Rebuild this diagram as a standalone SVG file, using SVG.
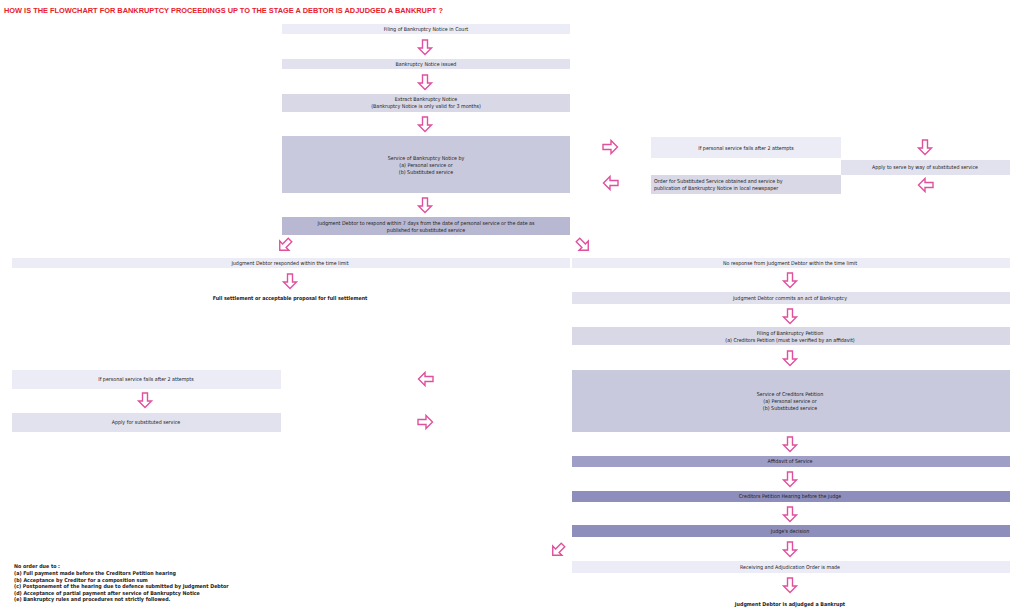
<svg xmlns="http://www.w3.org/2000/svg" width="1024" height="616" viewBox="0 0 1024 616">
<style>
text{font-family:"DejaVu Sans Condensed","DejaVu Sans",sans-serif;font-size:5.3px;fill:#222}
.c{text-anchor:middle}
.b{font-weight:bold}
.t{font-family:"Liberation Sans",Arial,sans-serif;font-size:7.4px;font-weight:bold;fill:#e8202a}
.a{fill:#fff;stroke:#e0509c;stroke-width:1.4}
.l1{fill:#ececf6}.l2{fill:#e2e2ee}.l3{fill:#d8d8e6}.l4{fill:#c9c9dd}.l5{fill:#b8b8d2}.l6{fill:#9e9ec6}.l7{fill:#8e8ebc}
</style>
<defs>
<path id="ar" class="a" d="M-2.5,0 h5 v8 h4 l-6.5,6.5 l-6.5,-6.5 h4 z"/>
</defs>
<rect width="1024" height="616" fill="#fff"/>
<text class="t" x="4" y="13">HOW IS THE FLOWCHART FOR BANKRUPTCY PROCEEDINGS UP TO THE STAGE A DEBTOR IS ADJUDGED A BANKRUPT ?</text>
<g id="connectors">
<use href="#ar" x="425" y="40"/>
<use href="#ar" x="425" y="75"/>
<use href="#ar" x="425" y="117"/>
<use href="#ar" x="425" y="198"/>
<use href="#ar" transform="translate(290,240) rotate(45)"/>
<use href="#ar" transform="translate(578,240) rotate(-45)"/>
<use href="#ar" x="290" y="274"/>
<use href="#ar" x="790" y="273"/>
<use href="#ar" x="790" y="309"/>
<use href="#ar" x="790" y="351"/>
<use href="#ar" x="790" y="437"/>
<use href="#ar" x="790" y="472"/>
<use href="#ar" x="790" y="507"/>
<use href="#ar" x="790" y="542"/>
<use href="#ar" x="790" y="578"/>
<use href="#ar" x="145" y="393"/>
<use href="#ar" transform="translate(603,147) rotate(-90)"/>
<use href="#ar" transform="translate(618,183) rotate(90)"/>
<use href="#ar" x="925" y="140"/>
<use href="#ar" transform="translate(933,185) rotate(90)"/>
<use href="#ar" transform="translate(433,379) rotate(90)"/>
<use href="#ar" transform="translate(418,422) rotate(-90)"/>
<use href="#ar" transform="translate(563,545) rotate(45)"/>
</g>
<g id="n1"><rect class="l1" x="282" y="24" width="288" height="10"/><text class="c" x="426" y="31">Filing of Bankruptcy Notice in Court</text></g>
<g id="n2"><rect class="l2" x="282" y="59" width="288" height="10"/><text class="c" x="426" y="66">Bankruptcy Notice issued</text></g>
<g id="n3"><rect class="l3" x="282" y="94" width="288" height="18"/><text class="c" x="426" y="101">Extract Bankruptcy Notice</text><text class="c" x="426" y="108">(Bankruptcy Notice is only valid for 3 months)</text></g>
<g id="n4"><rect class="l4" x="282" y="136" width="288" height="57"/><text class="c" x="426" y="160">Service of Bankruptcy Notice by</text><text class="c" x="426" y="167">(a) Personal service or</text><text class="c" x="426" y="174">(b) Substituted service</text></g>
<g id="n5"><rect class="l5" x="282" y="217" width="288" height="18"/><text class="c" x="426" y="225">Judgment Debtor to respond within 7 days from the date of personal service or the date as</text><text class="c" x="426" y="232">published for substituted service</text></g>
<g id="n6"><rect class="l1" x="651" y="137" width="190" height="21"/><text class="c" x="746" y="150">If personal service fails after 2 attempts</text></g>
<g id="n7"><rect class="l2" x="841" y="160" width="169" height="15"/><text class="c" x="925" y="169">Apply to serve by way of substituted service</text></g>
<g id="n8"><rect class="l3" x="651" y="175" width="190" height="19"/><text x="654" y="183">Order for Substituted Service obtained and service by</text><text x="654" y="190">publication of Bankruptcy Notice in local newspaper</text></g>
<g id="n9"><rect class="l1" x="12" y="258" width="558" height="10"/><text class="c" x="290" y="265">Judgment Debtor responded within the time limit</text></g>
<g id="n10"><text class="c b" x="290" y="300">Full settlement or acceptable proposal for full settlement</text></g>
<g id="n11"><rect class="l1" x="572" y="258" width="438" height="10"/><text class="c" x="790" y="265">No response from Judgment Debtor within the time limit</text></g>
<g id="n12"><rect class="l2" x="572" y="292" width="438" height="12"/><text class="c" x="790" y="300">Judgment Debtor commits an act of Bankruptcy</text></g>
<g id="n13"><rect class="l3" x="572" y="327" width="438" height="18"/><text class="c" x="790" y="335">Filing of Bankruptcy Petition</text><text class="c" x="790" y="342">(a) Creditors Petition (must be verified by an affidavit)</text></g>
<g id="n14"><rect class="l4" x="572" y="370" width="438" height="62"/><text class="c" x="790" y="396">Service of Creditors Petition</text><text class="c" x="790" y="403">(a) Personal service or</text><text class="c" x="790" y="410">(b) Substituted service</text></g>
<g id="n15"><rect class="l6" x="572" y="456" width="438" height="11"/><text class="c" x="790" y="463">Affidavit of Service</text></g>
<g id="n16"><rect class="l7" x="572" y="491" width="438" height="11"/><text class="c" x="790" y="498">Creditors Petition Hearing before the judge</text></g>
<g id="n17"><rect class="l7" x="572" y="525" width="438" height="12"/><text class="c" x="790" y="533">Judge's decision</text></g>
<g id="n18"><rect class="l1" x="572" y="561" width="438" height="12"/><text class="c" x="790" y="569">Receiving and Adjudication Order is made</text></g>
<g id="n19"><text class="c b" x="790" y="606">Judgment Debtor is adjudged a Bankrupt</text></g>
<g id="n20"><rect class="l1" x="12" y="370" width="269" height="19"/><text class="c" x="146" y="381">If personal service fails after 2 attempts</text></g>
<g id="n21"><rect class="l2" x="12" y="413" width="269" height="19"/><text class="c" x="146" y="424">Apply for substituted service</text></g>
<g id="n22">
<text class="b" x="14" y="568">No order due to :</text>
<text class="b" x="14" y="575">(a) Full payment made before the Creditors Petition hearing</text>
<text class="b" x="14" y="581.5">(b) Acceptance by Creditor for a composition sum</text>
<text class="b" x="14" y="588">(c) Postponement of the hearing due to defence submitted by Judgment Debtor</text>
<text class="b" x="14" y="594.5">(d) Acceptance of partial payment after service of Bankruptcy Notice</text>
<text class="b" x="14" y="601">(e) Bankruptcy rules and procedures not strictly followed.</text>
</g>
</svg>
